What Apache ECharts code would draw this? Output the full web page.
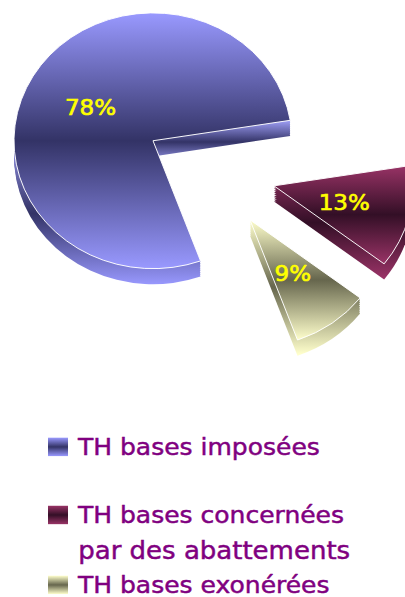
<!DOCTYPE html>
<html>
<head>
<meta charset="utf-8">
<style>
html, body { margin: 0; height: 100%; overflow: hidden; background: #fff; }
/* the pie is tilted in the picture: squash the whole chart a little */
#container { width: 405px; height: 649px; transform: scaleY(0.92); transform-origin: 0 0; }
</style>
<script src="https://cdn.jsdelivr.net/npm/echarts@6/dist/echarts.min.js"></script>
</head>
<body>
<div id="container"></div>
<script>
const categories = ['TH bases imposées', 'TH bases concernées', 'TH bases exonérées']
const values = [78, 13, 9]
const secondLine = 'par des abattements'

const lightColors = ['#9999ff', '#993366', '#ffffcc']
const darkColors = ['#333366', '#330f26', '#66664d']
const centers = [[153, 153], [274, 202], [250, 239]]
const legendTops = [468, 542, 618]
const rimBands = [[32, 310], [182, 302], [239, 385]]
const radius = 139
const depth = 17
const font = 'DejaVu Sans'
const legendColor = '#800080'

function grad(light, dark) {
    return {
        type: 'linear', x: 0, y: 0, x2: 0, y2: 1,
        colorStops: [
            { offset: 0, color: light },
            { offset: 0.5, color: dark },
            { offset: 1, color: light }
        ]
    }
}

// rim copies share one gradient in chart pixels, the big slice shows the cut edge too
function rimGrad(i) {
    const stops = i === 0
        ? [
            { offset: 0.36, color: '#9999ee' },
            { offset: 0.44, color: darkColors[0] },
            { offset: 0.5, color: '#8080cc' },
            { offset: 0.72, color: darkColors[0] },
            { offset: 1, color: lightColors[0] }
        ]
        : grad(lightColors[i], darkColors[i]).colorStops
    return {
        type: 'linear', global: true,
        x: 0, y: rimBands[i][0], x2: 0, y2: rimBands[i][1],
        colorStops: stops
    }
}

// one pie per exploded slice, the other slices stay invisible
function slicePie(i, drop) {
    const isRim = drop > 0
    return {
        type: 'pie',
        silent: true,
        animation: false,
        startAngle: 290,
        percentPrecision: 0,
        avoidLabelOverlap: false,
        radius: radius,
        center: [centers[i][0], centers[i][1] + drop],
        labelLine: { show: false },
        data: categories.map((name, k) => ({
            name: name,
            value: values[k],
            itemStyle: k === i
                ? {
                    color: isRim ? rimGrad(i) : grad(lightColors[i], darkColors[i]),
                    borderColor: '#fff',
                    borderWidth: isRim ? 0 : 1
                }
                : { color: 'transparent', borderWidth: 0 },
            label: {
                show: k === i && !isRim,
                position: 'inside',
                formatter: '{d}%',
                color: '#ffff00',
                fontFamily: font,
                fontSize: 23,
                textBorderColor: '#ffff00',
                textBorderWidth: 0.7
            }
        }))
    }
}

const series = []
for (let drop = depth; drop > 0; drop -= 2) {
    categories.forEach((c, i) => series.push(slicePie(i, drop)))
}
categories.forEach((c, i) => series.push(slicePie(i, 0)))

const legends = categories.map((name, i) => ({
    left: 43,
    top: legendTops[i],
    selectedMode: false,
    itemWidth: 20,
    itemHeight: 20,
    icon: 'rect',
    textStyle: {
        color: legendColor,
        fontFamily: font,
        fontSize: 25,
        textBorderColor: legendColor,
        textBorderWidth: 0.5,
        padding: [0, 0, 0, 5]
    },
    data: [{ name: name, itemStyle: { color: grad(lightColors[i], darkColors[i]) } }]
}))

const mychart = echarts.init(document.getElementById('container'), null, { renderer: 'svg' })
mychart.setOption({
    legend: legends,
    series: series,
    graphic: [{
        type: 'text',
        left: 78,
        top: 586,
        style: { text: secondLine, fill: legendColor, stroke: legendColor, lineWidth: 0.5, font: '26px "' + font + '"' }
    }]
})
</script>
</body>
</html>
